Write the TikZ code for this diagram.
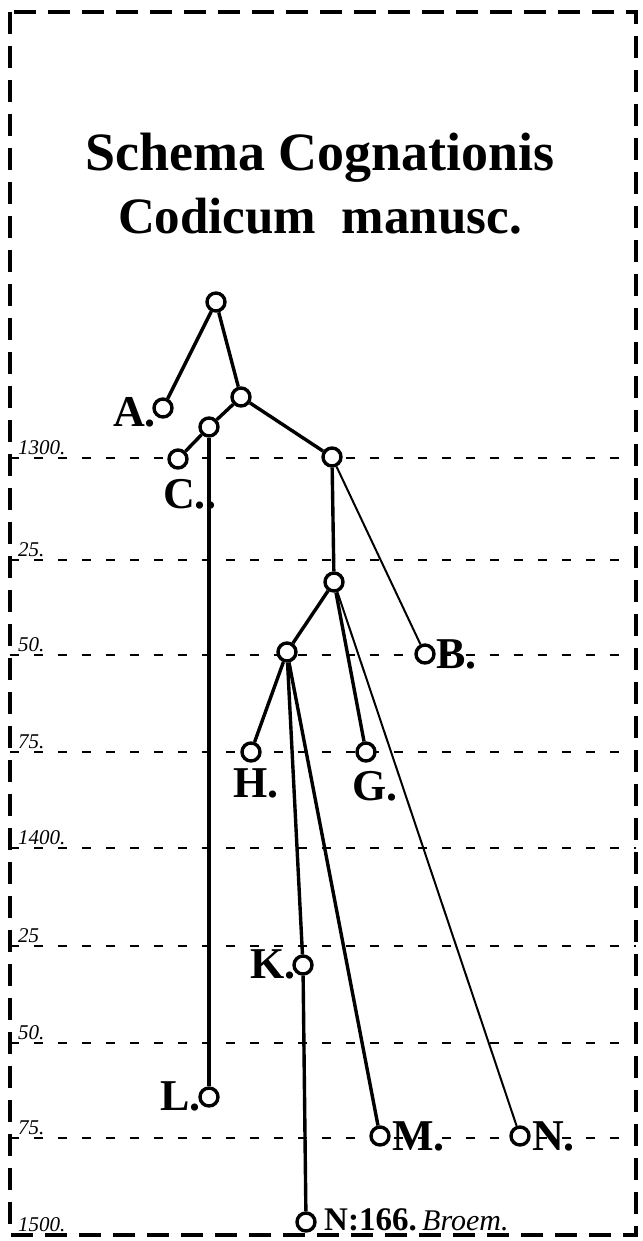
\documentclass[tikz,border=0pt]{standalone}
\usepackage{fontspec}
\setmainfont{Liberation Serif}
\begin{document}
\begin{tikzpicture}[x=1pt,y=-1pt,
  nd/.style={circle,draw,line width=3.4pt,minimum size=18pt,inner sep=0pt,fill=white},
  edge/.style={line width=3.4pt},
  thinedge/.style={line width=2pt},
  lab/.style={font=\fontsize{44}{44}\selectfont\bfseries, inner sep=0pt},
  gridline/.style={line width=2.2pt, dash pattern=on 9pt off 15pt},
  yr/.style={font=\fontsize{21}{21}\selectfont\itshape, anchor=south west, inner sep=1pt},
  title/.style={font=\fontsize{54}{54}\selectfont\bfseries, inner sep=0pt}]
\useasboundingbox (0,0) rectangle (642,1241);
\draw[line width=3.6pt, dash pattern=on 22pt off 12pt] (10,12) rectangle (636,1235);
% grid
\foreach \yy/\tx in {458/1300., 560/25., 655/50., 752/75., 848/1400., 946/25, 1043/50., 1138/75.}{
  \draw[gridline] (10,\yy) -- (636,\yy);
  \node[yr] at (17,\yy-2) {\tx};
}
\node[yr] at (17,1233) {1500.};
% title
\node[title] (t1) at (320,158) {Schema Cognationis};
\node[title, font=\fontsize{51}{51}\selectfont\bfseries] (t2) at (320,216) {Codicum\ \ manusc.};
% nodes
\node[nd] (r) at (216,302) {};
\node[nd] (A) at (163,408) {};
\node[nd] (n2) at (241,397) {};
\node[nd] (n3) at (209,427) {};
\node[nd] (C) at (178,459) {};
\node[nd] (n4) at (332,457) {};
\node[nd] (n5) at (334,582) {};
\node[nd] (B) at (425,654) {};
\node[nd] (n6) at (287,652) {};
\node[nd] (H) at (251,752) {};
\node[nd] (G) at (366,752) {};
\node[nd] (K) at (303,965) {};
\node[nd] (L) at (209,1097) {};
\node[nd] (M) at (380,1136) {};
\node[nd] (N) at (520,1136) {};
\node[nd] (Z) at (306,1222) {};
% edges
\draw[edge] (r) -- (A);
\draw[edge] (r) -- (n2);
\draw[edge] (n2) -- (n3);
\draw[edge] (n3) -- (C);
\draw[edge] (n2) -- (n4);
\draw[edge] (n3) -- (L);
\draw[edge] (n4) -- (n5);
\draw[thinedge] (n4) -- (B);
\draw[edge] (n5) -- (n6);
\draw[edge] (n5) -- (G);
\draw[thinedge] (n5) -- (N);
\draw[edge] (n6) -- (H);
\draw[edge] (n6) -- (K);
\draw[edge] (n6) -- (M);
\draw[edge] (K) -- (Z);
% labels
\node[lab, anchor=base east] (lA) at (156,426) {A.};
\node[lab, anchor=base west] (lC) at (163,508) {C..};
\node[lab, anchor=base west] (lB) at (436,668) {B.};
\node[lab, anchor=base west] (lH) at (233,797) {H.};
\node[lab, anchor=base west] (lG) at (352,800) {G.};
\node[lab, anchor=base east] (lK) at (296,978) {K.};
\node[lab, anchor=base east] (lL) at (201,1110) {L.};
\node[lab, anchor=base west] (lM) at (392,1150) {M.};
\node[lab, anchor=base west] (lN) at (532,1150) {N.};
\node[font=\fontsize{33}{33}\selectfont\bfseries, anchor=base west, inner sep=0pt] (lZ) at (324,1230) {N:166.};
\node[font=\fontsize{30}{30}\selectfont\itshape, anchor=base west, inner sep=0pt] (lZb) at (lZ.base east) {\,Broem.};
\end{tikzpicture}
\end{document}
